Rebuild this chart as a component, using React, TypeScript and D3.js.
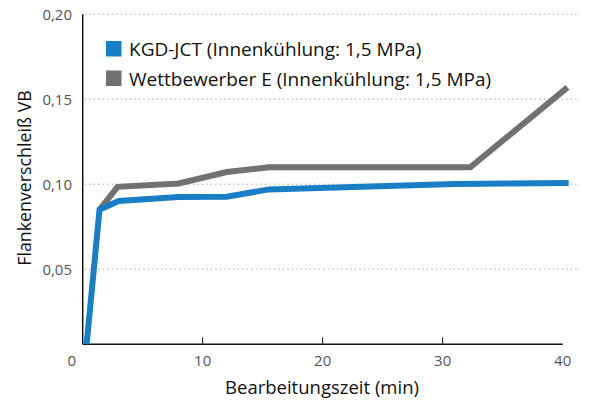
import React, { useEffect, useRef } from 'react';
import * as d3 from 'd3';

// Bearbeitungszeit (min) / Flankenverschleiß VB
const kgdTime = [0.25, 1.4, 3, 8, 12, 15.5, 31, 40.5];
const kgdWear = [0, 0.085, 0.0902, 0.0925, 0.0927, 0.097, 0.1002, 0.1008];
const wettTime = [1.4, 2.9, 8, 12, 15.5, 32.3, 40.4];
const wettWear = [0.085, 0.0985, 0.1005, 0.1072, 0.11, 0.11, 0.157];

const xTicks = [0, 10, 20, 30, 40];
const yTicks = [0.05, 0.1, 0.15, 0.2];
const legendLabels = ['KGD-JCT (Innenkühlung: 1,5 MPa)', 'Wettbewerber E (Innenkühlung: 1,5 MPa)'];
const colors = ['#1a7ec5', '#717171'];

export default function App() {
  const svgRef = useRef<SVGSVGElement>(null);

  useEffect(() => {
    const svg = d3.select(svgRef.current);
    svg.selectAll('*').remove();
    const font = '"Open Sans", sans-serif';

    const left = 82.7, right = 562.7, top = 14.3, bottom = 344.3;
    const x = d3.scaleLinear().domain([0, 40]).range([left, right]);
    const y = d3.scaleLinear().domain([0.2 - (bottom - top) / 1700, 0.2]).range([bottom, top]);

    // grid lines
    svg.append('g')
      .selectAll('line')
      .data(yTicks)
      .enter()
      .append('line')
      .attr('x1', left + 2)
      .attr('x2', 580)
      .attr('y1', d => y(d))
      .attr('y2', d => y(d))
      .attr('stroke', '#c4c4c4')
      .attr('stroke-width', 1.5)
      .attr('stroke-dasharray', '1.5,3');

    // y tick labels
    svg.append('g')
      .selectAll('text')
      .data(yTicks)
      .enter()
      .append('text')
      .attr('x', 72)
      .attr('y', d => y(d) + 5.5)
      .attr('text-anchor', 'end')
      .attr('font-family', font)
      .attr('font-size', 15)
      .attr('fill', '#555')
      .text(d => d3.format('.2f')(d).replace('.', ','));

    // axes
    svg.append('line')
      .attr('x1', left).attr('x2', right)
      .attr('y1', bottom).attr('y2', bottom)
      .attr('stroke', '#111').attr('stroke-width', 1.5);
    svg.append('line')
      .attr('x1', left).attr('x2', left)
      .attr('y1', top).attr('y2', bottom)
      .attr('stroke', '#111').attr('stroke-width', 1.5);

    svg.append('g')
      .selectAll('line')
      .data(xTicks.slice(1, -1))
      .enter()
      .append('line')
      .attr('x1', d => x(d)).attr('x2', d => x(d))
      .attr('y1', bottom).attr('y2', bottom - 7)
      .attr('stroke', '#111').attr('stroke-width', 1);

    svg.append('g')
      .selectAll('text')
      .data(xTicks)
      .enter()
      .append('text')
      .attr('x', d => x(d) - (d === 0 ? 11 : 0))
      .attr('y', 366)
      .attr('text-anchor', 'middle')
      .attr('font-family', font)
      .attr('font-size', 15)
      .attr('fill', '#555')
      .text(d => d);

    // axis titles
    svg.append('text')
      .attr('x', 322)
      .attr('y', 394)
      .attr('text-anchor', 'middle')
      .attr('font-family', font)
      .attr('font-size', 18.5)
      .attr('fill', '#111')
      .text('Bearbeitungszeit (min)');

    svg.append('text')
      .attr('transform', 'translate(31,178) rotate(-90)')
      .attr('text-anchor', 'middle')
      .attr('font-family', font)
      .attr('font-size', 17.8)
      .attr('fill', '#111')
      .text('Flankenverschleiß VB');

    // lines
    svg.append('clipPath').attr('id', 'plot')
      .append('rect')
      .attr('x', left).attr('y', 0)
      .attr('width', 601 - left).attr('height', bottom);

    const line = d3.line<[number, number]>()
      .x(d => x(d[0]))
      .y(d => y(d[1]));

    const series: [number, number][][] = [
      wettTime.map((t, i) => [t, wettWear[i]]),
      kgdTime.map((t, i) => [t, kgdWear[i]]),
    ];
    const seriesColors = [colors[1], colors[0]];

    svg.append('g')
      .attr('clip-path', 'url(#plot)')
      .selectAll('path')
      .data(series)
      .enter()
      .append('path')
      .attr('d', d => line(d))
      .attr('fill', 'none')
      .attr('stroke', (d, i) => seriesColors[i])
      .attr('stroke-width', 6)
      .attr('stroke-linejoin', 'miter');

    // legend
    const legend = svg.append('g')
      .selectAll('g')
      .data(legendLabels)
      .enter()
      .append('g')
      .attr('transform', (d, i) => `translate(106,${41 + i * 29.5})`);
    legend.append('rect')
      .attr('width', 15.5).attr('height', 15.5)
      .attr('fill', (d, i) => colors[i]);
    legend.append('text')
      .attr('x', 23)
      .attr('y', 15)
      .attr('font-family', font)
      .attr('font-size', 19)
      .attr('fill', '#111')
      .text(d => d);
  }, []);

  return (
    <svg ref={svgRef} width={601} height={401}
      style={{ position: 'absolute', left: 0, top: 0, background: '#fff' }} />
  );
}
